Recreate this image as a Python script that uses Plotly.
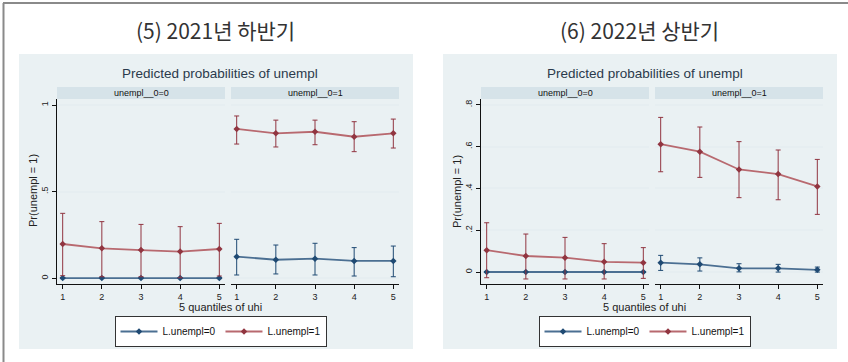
import plotly.graph_objects as go

W, H = 848, 362

quantiles = [1, 2, 3, 4, 5]
tick_labels = ["1", "2", "3", "4", "5"]

# (5) 2021 H2 -- panel unempl__0=0
h21_p0_l0_est = [0.001, 0.001, 0.001, 0.001, 0.001]
h21_p0_l0_lo = [-0.002, -0.002, -0.002, -0.002, -0.002]
h21_p0_l0_hi = [0.004, 0.004, 0.004, 0.004, 0.004]
h21_p0_l1_est = [0.198, 0.173, 0.163, 0.154, 0.169]
h21_p0_l1_lo = [0.015, 0.009, 0.009, 0.003, 0.013]
h21_p0_l1_hi = [0.375, 0.327, 0.311, 0.298, 0.317]
# (5) 2021 H2 -- panel unempl__0=1
h21_p1_l0_est = [0.125, 0.107, 0.113, 0.100, 0.100]
h21_p1_l0_lo = [0.019, 0.025, 0.019, 0.013, 0.009]
h21_p1_l0_hi = [0.225, 0.192, 0.202, 0.177, 0.186]
h21_p1_l1_est = [0.862, 0.837, 0.846, 0.817, 0.837]
h21_p1_l1_lo = [0.775, 0.758, 0.771, 0.731, 0.752]
h21_p1_l1_hi = [0.937, 0.913, 0.913, 0.904, 0.919]

# (6) 2022 H1 -- panel unempl__0=0
h22_p0_l0_est = [0.0005, 0.0005, 0.0005, 0.0005, 0.0005]
h22_p0_l0_lo = [-0.001, -0.001, -0.001, -0.001, -0.001]
h22_p0_l0_hi = [0.002, 0.002, 0.002, 0.002, 0.002]
h22_p0_l1_est = [0.105, 0.077, 0.069, 0.049, 0.045]
h22_p0_l1_lo = [-0.027, -0.033, -0.033, -0.033, -0.030]
h22_p0_l1_hi = [0.236, 0.182, 0.166, 0.136, 0.117]
# (6) 2022 H1 -- panel unempl__0=1
h22_p1_l0_est = [0.045, 0.037, 0.018, 0.018, 0.011]
h22_p1_l0_lo = [0.008, 0.005, 0.001, 0.000, 0.000]
h22_p1_l0_hi = [0.080, 0.068, 0.040, 0.037, 0.024]
h22_p1_l1_est = [0.612, 0.576, 0.491, 0.469, 0.410]
h22_p1_l1_lo = [0.480, 0.453, 0.356, 0.346, 0.276]
h22_p1_l1_hi = [0.740, 0.694, 0.624, 0.584, 0.539]

graph_titles = ["(5) 2021년 하반기", "(6) 2022년 상반기"]
panel_labels = ["unempl__0=0", "unempl__0=1"]
series_names = ["L.unempl=0", "L.unempl=1"]
y_ticks_21 = [0, 0.5, 1]
y_ticklabels_21 = ["0", ".5", "1"]
y_ticks_22 = [0, 0.2, 0.4, 0.6, 0.8]
y_ticklabels_22 = ["0", ".2", ".4", ".6", ".8"]

BLUE_DARK = "#1f4a73"
BLUE_LINE = "#4b6f92"
RED_DARK = "#913540"
RED_LINE = "#b8696f"
BG = "#eaf1f3"
STRIP = "#d6e3e9"
FONT = "Liberation Sans"

def px(x):
    return x / W

def py(y):
    return 1 - y / H

def label(text, x, y, size, color, family=FONT, angle=0):
    return dict(text=text, xref="paper", yref="paper", x=px(x), y=py(y),
                xanchor="center", yanchor="middle", showarrow=False, textangle=angle,
                font=dict(family=family, size=size, color=color))

fig = go.Figure()

graphs = [
    dict(offset=0, yr=[-0.033, 1.035], yt=y_ticks_21, ytl=y_ticklabels_21,
         data=[[(h21_p0_l0_est, h21_p0_l0_lo, h21_p0_l0_hi), (h21_p0_l1_est, h21_p0_l1_lo, h21_p0_l1_hi)],
               [(h21_p1_l0_est, h21_p1_l0_lo, h21_p1_l0_hi), (h21_p1_l1_est, h21_p1_l1_lo, h21_p1_l1_hi)]]),
    dict(offset=424, yr=[-0.057, 0.828], yt=y_ticks_22, ytl=y_ticklabels_22,
         data=[[(h22_p0_l0_est, h22_p0_l0_lo, h22_p0_l0_hi), (h22_p0_l1_est, h22_p0_l1_lo, h22_p0_l1_hi)],
               [(h22_p1_l0_est, h22_p1_l0_lo, h22_p1_l0_hi), (h22_p1_l1_est, h22_p1_l1_lo, h22_p1_l1_hi)]]),
]

shapes = []
annotations = []
layout_axes = {}
ax_i = 0
for gi, g in enumerate(graphs):
    off = g["offset"]
    shapes.append(dict(type="rect", xref="paper", yref="paper", layer="below",
                       x0=px(19 + off), x1=px(413 + off), y0=py(349), y1=py(54),
                       fillcolor=BG, line=dict(width=0)))
    annotations.append(label(graph_titles[gi], 215 + off, 30, 21, "#333333", "Noto Sans CJK KR"))
    annotations.append(label("Predicted probabilities of unempl", 220.5 + off, 73, 13.5, "#2a3a4c"))
    annotations.append(label("5 quantiles of uhi", 220.5 + off, 307, 11, "#222222"))
    annotations.append(label("Pr(unempl = 1)", 33 + off, 191, 11, "#222222", angle=-90))
    for pi in range(2):
        ax_i += 1
        x0 = 57 + off + pi * 174
        x1 = x0 + 168
        sfx = "" if ax_i == 1 else str(ax_i)
        shapes.append(dict(type="rect", xref="paper", yref="paper",
                           x0=px(x0), x1=px(x1), y0=py(99), y1=py(87),
                           fillcolor=STRIP, line=dict(width=0)))
        annotations.append(label(panel_labels[pi], (x0 + x1) / 2, 93, 9, "#111111"))
        layout_axes["xaxis" + sfx] = dict(
            domain=[px(x0), px(x1)], anchor="y" + sfx, range=[0.855, 5.145],
            tickvals=quantiles, ticktext=tick_labels, ticks="outside", ticklen=4,
            tickcolor="#111111", showline=True, linecolor="#111111", linewidth=1,
            showgrid=False, zeroline=False,
            tickfont=dict(family=FONT, size=9, color="#222222"))
        layout_axes["yaxis" + sfx] = dict(
            domain=[py(284), py(99)], anchor="x" + sfx, range=g["yr"],
            tickvals=g["yt"], ticktext=g["ytl"], showgrid=True,
            gridcolor="#e6eef1", gridwidth=1.5, zeroline=False,
            showline=(pi == 0), linecolor="#111111", linewidth=1,
            ticks="outside" if pi == 0 else "", ticklen=4, tickcolor="#111111",
            showticklabels=(pi == 0), tickangle=-90,
            tickfont=dict(family=FONT, size=9, color="#222222"))
        for si, (est, lo, hi) in enumerate(g["data"][pi]):
            dark = BLUE_DARK if si == 0 else RED_DARK
            light = BLUE_LINE if si == 0 else RED_LINE
            fig.add_trace(go.Scatter(
                x=quantiles, y=est, mode="lines+markers", name=series_names[si],
                xaxis="x" + sfx, yaxis="y" + sfx,
                legend="legend" if gi == 0 else "legend2",
                showlegend=(pi == 0),
                line=dict(color=light, width=1.8),
                marker=dict(symbol="diamond", size=5, color=dark),
                error_y=dict(type="data", symmetric=False,
                             array=[h - e for h, e in zip(hi, est)],
                             arrayminus=[e - l for e, l in zip(est, lo)],
                             color=dark, thickness=1, width=2.5)))

# outer frame (top and left edges visible)
shapes.append(dict(type="line", xref="paper", yref="paper", x0=px(3), x1=1, y0=py(3), y1=py(3),
                   line=dict(color="#8a8a8a", width=2)))
shapes.append(dict(type="line", xref="paper", yref="paper", x0=px(3.5), x1=px(3.5), y0=0, y1=py(3),
                   line=dict(color="#8a8a8a", width=2)))

legend_common = dict(orientation="h", xanchor="center", yanchor="top",
                     bgcolor="white", bordercolor="#333333", borderwidth=1,
                     font=dict(family=FONT, size=10, color="#111111"),
                     itemwidth=37, tracegroupgap=0)

fig.update_layout(
    width=W, height=H, margin=dict(l=0, r=0, t=0, b=0),
    paper_bgcolor="white", plot_bgcolor="white",
    shapes=shapes, annotations=annotations,
    legend=dict(x=px(220.5), y=py(316), **legend_common),
    legend2=dict(x=px(644.5), y=py(316), **legend_common),
    **layout_axes)

fig.write_html("out.html")
